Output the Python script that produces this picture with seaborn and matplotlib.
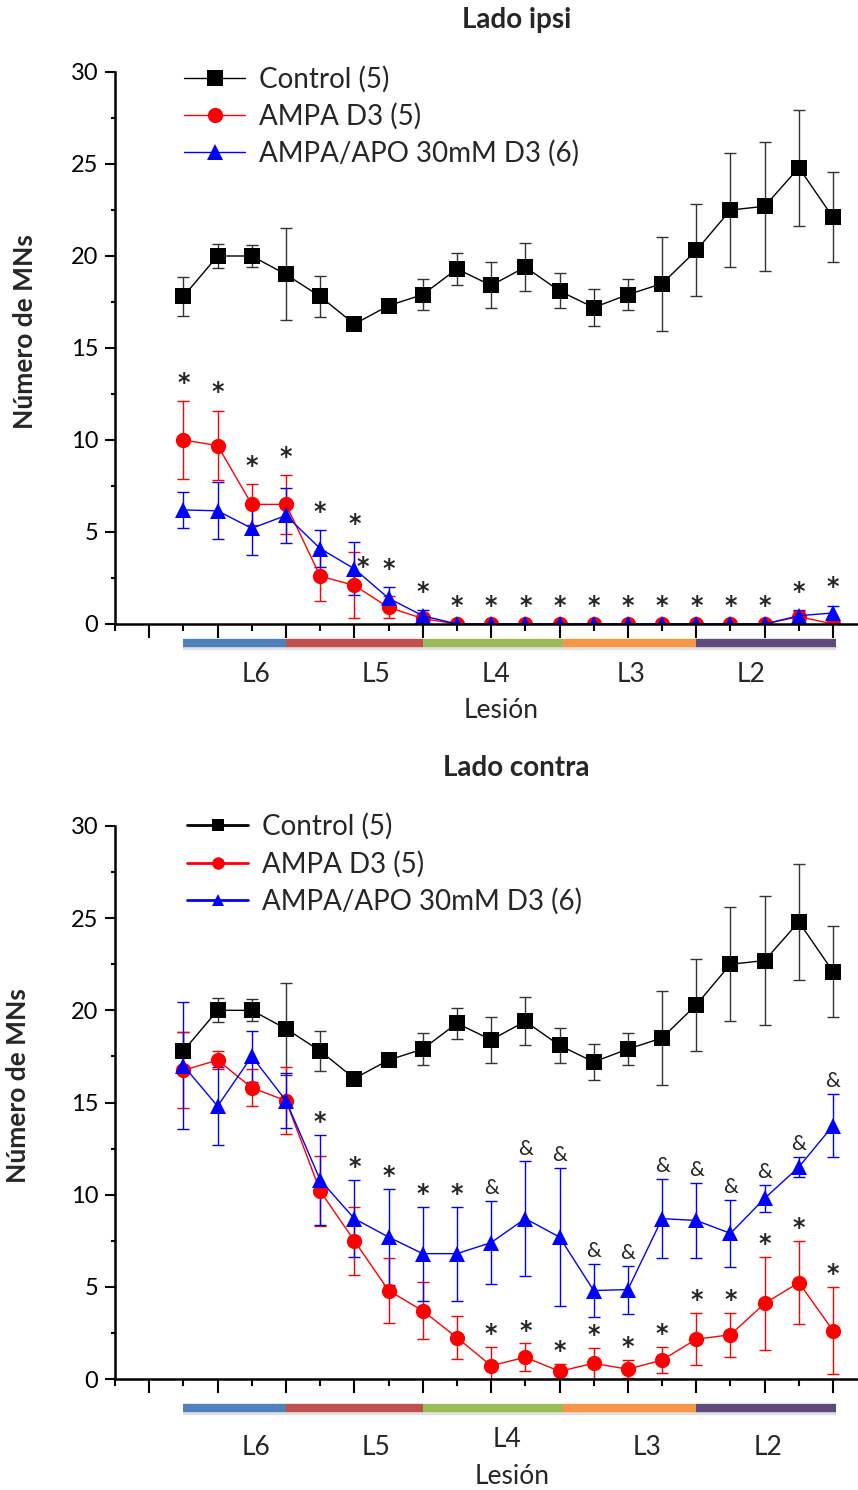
import matplotlib
matplotlib.use('Agg')
import matplotlib.pyplot as plt
import matplotlib.transforms as mtransforms
import matplotlib.patheffects as pe
from matplotlib.lines import Line2D
from matplotlib.ticker import MultipleLocator, FixedLocator, NullFormatter
import pandas as pd
import seaborn as sns

# ---- data ----
positions = list(range(2, 22))

group_names = ['Control (5)', 'AMPA D3 (5)', 'AMPA/APO 30mM D3 (6)']

control_mean = [17.8, 20.0, 20.0, 19.0, 17.8, 16.3, 17.3, 17.9, 19.3, 18.4,
                19.4, 18.1, 17.2, 17.9, 18.5, 20.3, 22.5, 22.7, 24.8, 22.1]
control_err = [1.05, 0.65, 0.6, 2.5, 1.1, 0.2, 0.3, 0.85, 0.85, 1.25,
               1.3, 0.95, 1.0, 0.85, 2.55, 2.5, 3.1, 3.5, 3.15, 2.45]

ipsi_ampa_mean = [10.0, 9.7, 6.5, 6.5, 2.6, 2.1, 0.9, 0.3, 0.0, 0.0,
                  0.0, 0.0, 0.0, 0.0, 0.0, 0.0, 0.0, 0.0, 0.4, 0.0]
ipsi_ampa_err = [2.1, 1.9, 1.1, 1.6, 1.35, 1.8, 0.6, 0.2, 0.0, 0.0,
                 0.0, 0.0, 0.0, 0.0, 0.0, 0.0, 0.0, 0.0, 0.3, 0.0]
ipsi_apo_mean = [6.2, 6.15, 5.2, 5.9, 4.1, 3.0, 1.4, 0.45, 0.0, 0.0,
                 0.0, 0.0, 0.0, 0.0, 0.0, 0.0, 0.0, 0.0, 0.45, 0.6]
ipsi_apo_err = [1.0, 1.55, 1.45, 1.5, 1.0, 1.45, 0.6, 0.3, 0.0, 0.0,
                0.0, 0.0, 0.0, 0.0, 0.0, 0.0, 0.0, 0.0, 0.3, 0.4]

contra_ampa_mean = [16.75, 17.3, 15.8, 15.1, 10.2, 7.5, 4.8, 3.7, 2.25, 0.72,
                    1.18, 0.42, 0.85, 0.53, 1.03, 2.16, 2.4, 4.1, 5.23, 2.63]
contra_ampa_err = [2.05, 0.5, 1.0, 1.8, 1.9, 1.85, 1.75, 1.55, 1.15, 1.0,
                   0.75, 0.4, 0.85, 0.5, 0.7, 1.4, 1.2, 2.5, 2.25, 2.35]
contra_apo_mean = [17.0, 14.8, 17.5, 15.1, 10.8, 8.7, 7.7, 6.8, 6.8, 7.4,
                   8.7, 7.7, 4.8, 4.85, 8.7, 8.6, 7.9, 9.8, 11.5, 13.75]
contra_apo_err = [3.45, 2.1, 1.4, 1.5, 2.45, 2.1, 2.6, 2.55, 2.55, 2.25,
                  3.1, 3.75, 1.45, 1.3, 2.15, 2.05, 1.8, 0.75, 0.55, 1.7]

# significance marks: (position, symbol, series it sits above)
ipsi_marks = [(p, '*', 'max') for p in positions] + [(7, '*', 'ampa_mean')]
contra_marks = ([(p, '*', 'apo') for p in range(6, 11)] +
                [(p, '*', 'ampa') for p in range(11, 22)] +
                [(p, '&', 'apo') for p in range(11, 22)])

segment_edges = [2, 5, 9, 13.1, 17, 21.1]
segment_colors = ['#4F81BD', '#C0504D', '#9BBB59', '#F79646', '#604A7B']
segment_labels = ['L6', 'L5', 'L4', 'L3', 'L2']

colors = {'Control (5)': 'black', 'AMPA D3 (5)': '#FF0000', 'AMPA/APO 30mM D3 (6)': '#0000FF'}
markers = {'Control (5)': 's', 'AMPA D3 (5)': 'o', 'AMPA/APO 30mM D3 (6)': '^'}
marker_sizes = {'Control (5)': 11, 'AMPA D3 (5)': 11, 'AMPA/APO 30mM D3 (6)': 12}
err_colors = {'Control (5)': '#333333', 'AMPA D3 (5)': '#FF0000', 'AMPA/APO 30mM D3 (6)': '#0000FF'}


def build_frame(ampa_mean, ampa_err, apo_mean, apo_err) -> pd.DataFrame:
    parts = []
    for name, m, e in zip(group_names,
                          [control_mean, ampa_mean, apo_mean],
                          [control_err, ampa_err, apo_err]):
        parts.append(pd.DataFrame({'x': positions, 'mean': m, 'err': e, 'grupo': name}))
    return pd.concat(parts, ignore_index=True)


def draw_panel(ax, data, title, title_y, marks, mark_offset, label_pos, bar_y, label_y,
               lesion_y, legend_style, ylabel_x, legend_anchor):
    for name in group_names:
        sub = data[data['grupo'] == name]
        ax.errorbar(sub['x'], sub['mean'], yerr=sub['err'], fmt='none',
                    ecolor=err_colors[name], elinewidth=1, capsize=4, capthick=1, zorder=1.5)
    for name in group_names:
        sns.lineplot(data=data[data['grupo'] == name], x='x', y='mean',
                     color=colors[name], marker=markers[name],
                     markersize=marker_sizes[name], linewidth=1, markeredgewidth=0,
                     errorbar=None, legend=False, ax=ax)

    # annotations above error bars
    sub = {n: data[data['grupo'] == n].set_index('x') for n in group_names}
    for p, sym, ref in marks:
        a = sub['AMPA D3 (5)'].loc[p]
        b = sub['AMPA/APO 30mM D3 (6)'].loc[p]
        xs = p
        if ref == 'max':
            top = max(a['mean'] + a['err'], b['mean'] + b['err'])
        elif ref == 'ampa':
            top = a['mean'] + a['err']
        elif ref == 'apo':
            top = b['mean'] + b['err']
        else:
            top = a['mean']
            xs = p + 0.25
        if sym == '*':
            ax.text(xs, top + mark_offset, '*', ha='center', va='center',
                    fontsize=17, fontweight='bold', family=['DejaVu Sans'])
        else:
            ax.text(xs, top + mark_offset, '&', ha='center', va='center', fontsize=15)

    ax.set_xlim(0, 21.73)
    ax.set_ylim(0, 30)
    ax.xaxis.set_major_locator(FixedLocator(range(1, 22, 2)))
    ax.xaxis.set_minor_locator(FixedLocator(range(0, 22, 2)))
    ax.xaxis.set_major_formatter(NullFormatter())
    ax.yaxis.set_major_locator(MultipleLocator(5))
    ax.yaxis.set_minor_locator(MultipleLocator(2.5))
    ax.tick_params(axis='x', which='major', direction='out', length=10, width=1.5)
    ax.tick_params(axis='x', which='minor', direction='out', length=5, width=1.5)
    ax.tick_params(axis='y', which='major', direction='out', length=7, width=1.5,
                   labelsize=17, pad=5)
    ax.tick_params(axis='y', which='minor', direction='out', length=3, width=1.5)
    sns.despine(ax=ax)
    for s in ['left', 'bottom']:
        ax.spines[s].set_linewidth(1.8)
    ax.set_xlabel('')
    ax.set_ylabel('Número de MNs', fontsize=19, fontweight='bold')
    ax.yaxis.set_label_coords(ylabel_x, 0.53)
    ax.text(0.54, title_y, title, transform=ax.transAxes, ha='center', va='center',
            fontsize=20, fontweight='bold')

    # lesion segments below the axis
    trans = mtransforms.blended_transform_factory(ax.transData, ax.transAxes)
    for i, c in enumerate(segment_colors):
        ax.plot([segment_edges[i], segment_edges[i + 1]], [bar_y, bar_y], color=c, lw=6,
                solid_capstyle='butt', transform=trans, clip_on=False,
                path_effects=[pe.SimpleLineShadow(offset=(0, -2.5), alpha=0.12),
                              pe.Normal()])
    for lab, xp, yl in zip(segment_labels, label_pos, label_y):
        ax.text(xp, yl, lab, transform=trans, ha='center', va='center', fontsize=19)
    ax.text(lesion_y[0], lesion_y[1], 'Lesión', transform=trans, ha='center', va='center',
            fontsize=19)

    lw, ms = legend_style
    handles = [Line2D([], [], color=colors[n], marker=markers[n], markersize=ms,
                      markeredgewidth=0, lw=lw) for n in group_names]
    ax.legend(handles, group_names, frameon=False, loc='upper left',
              bbox_to_anchor=legend_anchor, fontsize=20, handlelength=2.2,
              handletextpad=0.5, labelspacing=0.38, borderaxespad=0, borderpad=0)


def main():
    sns.set_style('ticks')
    plt.rcParams['font.family'] = ['Lato', 'DejaVu Sans']
    plt.rcParams['axes.edgecolor'] = 'black'
    plt.rcParams['xtick.color'] = 'black'
    plt.rcParams['ytick.color'] = 'black'

    fig = plt.figure(figsize=(8.58, 14.9), dpi=100)
    ax_top = fig.add_axes([115 / 858, 1 - 624 / 1490, 743 / 858, 552 / 1490])
    ax_bot = fig.add_axes([115 / 858, 1 - 1379 / 1490, 743 / 858, 553 / 1490])

    ipsi = build_frame(ipsi_ampa_mean, ipsi_ampa_err, ipsi_apo_mean, ipsi_apo_err)
    contra = build_frame(contra_ampa_mean, contra_ampa_err, contra_apo_mean, contra_apo_err)

    draw_panel(ax_top, ipsi, 'Lado ipsi', 1.094, ipsi_marks, 1.0,
               [4.12, 7.63, 11.15, 15.1, 18.6], -0.034,
               [-0.092] * 5, (11.3, -0.156), (1, 11), -0.105, (0.093, 1.012))
    draw_panel(ax_bot, contra, 'Lado contra', 1.105, contra_marks, 0.7,
               [4.12, 7.63, 11.46, 15.55, 19.1], -0.052,
               [-0.123, -0.123, -0.110, -0.123, -0.123], (11.6, -0.177), (2, 9), -0.114,
               (0.097, 1.023))

    fig.savefig('out.png', dpi=100)


if __name__ == '__main__':
    main()
